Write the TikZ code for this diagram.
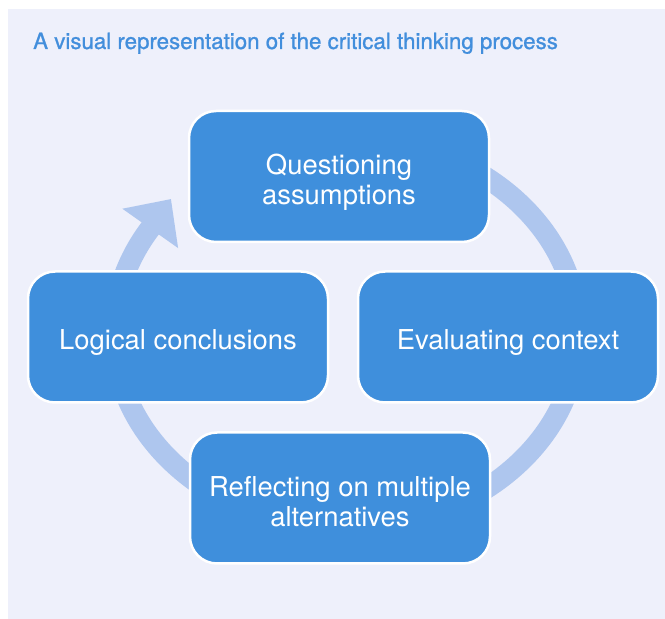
\documentclass[tikz,border=0pt]{standalone}
\usepackage{fontspec}
\setmainfont{TeX Gyre Heros}
\newfontfamily\titlefont[FakeBold=1.0]{TeX Gyre Heros}
\usetikzlibrary{arrows.meta}
\definecolor{bgc}{HTML}{EEF0FB}
\definecolor{boxc}{HTML}{3F8FDC}
\definecolor{ringc}{HTML}{AEC6EE}
\definecolor{titlec}{HTML}{428EDC}
\tikzset{
  stagebox/.style={draw=white, line width=2.5pt, fill=boxc, rounded corners=27pt,
    minimum width=300pt, minimum height=131pt, inner sep=0pt},
  stagetext/.style={align=center, text=white, anchor=base,
    font=\fontsize{27.4}{30}\selectfont, inner sep=0pt},
  ring/.style={draw=ringc, line width=21pt, -{Triangle[length=36pt, width=66pt]}},
}
\begin{document}
\begin{tikzpicture}[x=1pt, y=1pt]
\useasboundingbox (0,0) rectangle (665,619);
\fill[bgc] (8,0) rectangle (665,610);
\node[anchor=base west, text=titlec, font=\titlefont\fontsize{22.3}{26}\selectfont, inner sep=0pt] (title) at (33,570) {A visual representation of the critical thinking process};
% cycle ring
\coordinate (tip) at (171,420);
\draw[ring] (346,481) arc[start angle=90, end angle=-212.6, x radius=232, y radius=195] -- (tip);
% stages
\node[stagebox] (q) at (339,442.5) {};
\node[stagebox] (e) at (508,282) {};
\node[stagebox] (r) at (340,121) {};
\node[stagebox] (l) at (178,282) {};
\node[stagetext] (qt) at ([yshift=-28.5pt]q.center) {Questioning\\assumptions};
\node[stagetext] (et) at ([yshift=-13pt]e.center) {Evaluating context};
\node[stagetext] (rt) at ([yshift=-29pt]r.center) {Reflecting on multiple\\alternatives};
\node[stagetext] (lt) at ([yshift=-13pt]l.center) {Logical conclusions};
\end{tikzpicture}
\end{document}
